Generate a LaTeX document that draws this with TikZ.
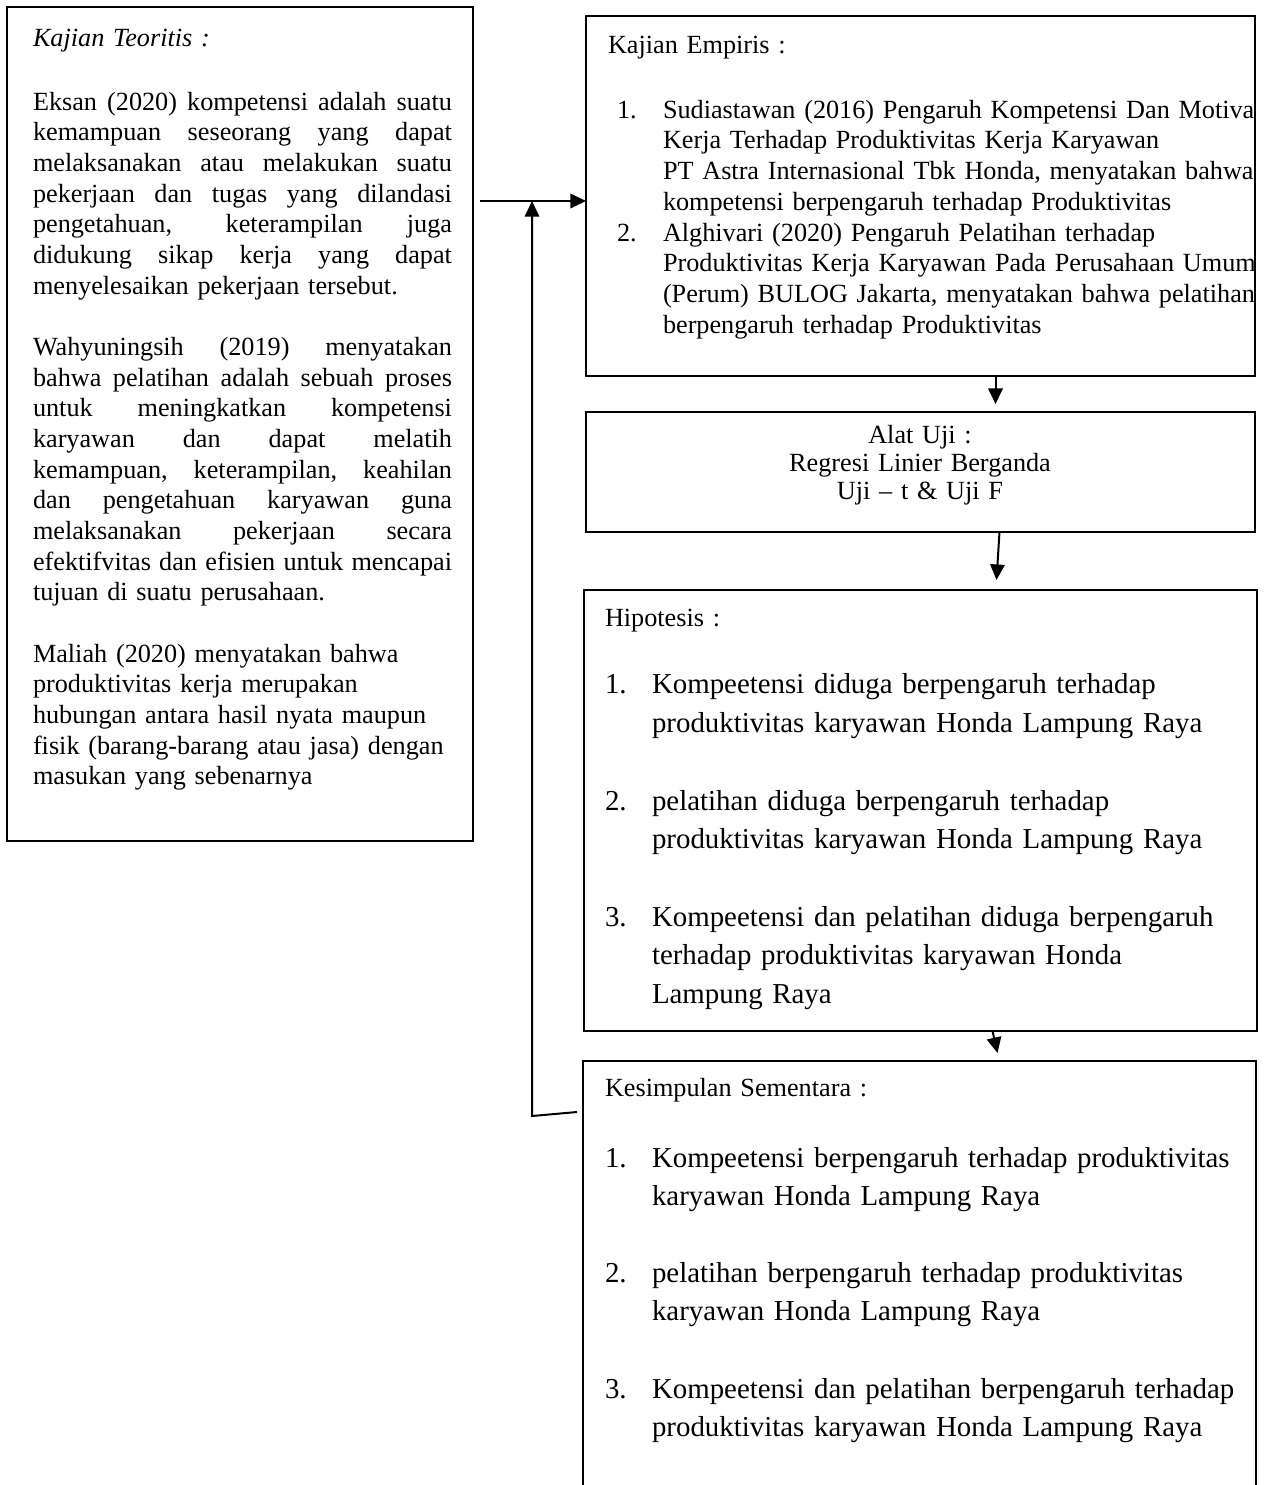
\documentclass[tikz,border=0pt]{standalone}
\usepackage{fontspec}
\setmainfont{Liberation Serif}
\usetikzlibrary{arrows.meta,calc}
\newcommand\jl[1]{\leavevmode\hbox to 188.55pt{\spaceskip=.25em plus 1fil\xspaceskip=.25em plus 1fil #1}}
\begin{document}
\begin{tikzpicture}[x=0.45pt,y=-0.45pt,
  box/.style={draw,line width=0.9pt,anchor=north west,inner sep=0pt,outer sep=0pt},
  txt/.style={anchor=base west,inner sep=0pt,outer sep=0pt,font=\fontsize{11.8}{13.8}\selectfont,align=left,text width=330pt},
  big/.style={anchor=base west,inner sep=0pt,outer sep=0pt,font=\fontsize{13}{17.4}\selectfont,align=left,text width=330pt},
  arr/.style={line width=0.9pt,-{Triangle[length=7pt,width=6.5pt]}},
  ln/.style={line width=0.9pt}]
\useasboundingbox (0,0) rectangle (1270,1485);

% boxes
\node[box,minimum width=466*0.45pt,minimum height=834*0.45pt] (teori) at (7,7) {};
\node[box,minimum width=669*0.45pt,minimum height=360*0.45pt] (empiris) at (586,16) {};
\node[box,minimum width=669*0.45pt,minimum height=120*0.45pt] (alat) at (586,412) {};
\node[box,minimum width=673*0.45pt,minimum height=441*0.45pt] (hipo) at (584,590) {};
\node[box,minimum width=673*0.45pt,minimum height=460*0.45pt] (kesim) at (583,1061) {};

% Kajian Teoritis
\node[txt] (ttitle) at (33,46) {\textit{Kajian Teoritis :}};
\node[txt,text width=190pt] (tpara) at (33,110) {%
\jl{Eksan (2020) kompetensi adalah suatu}\\
\jl{kemampuan seseorang yang dapat}\\
\jl{melaksanakan atau melakukan suatu}\\
\jl{pekerjaan dan tugas yang dilandasi}\\
\jl{pengetahuan, keterampilan juga}\\
\jl{didukung sikap kerja yang dapat}\\
menyelesaikan pekerjaan tersebut.\\
\mbox{}\\
\jl{Wahyuningsih (2019) menyatakan}\\
\jl{bahwa pelatihan adalah sebuah proses}\\
\jl{untuk meningkatkan kompetensi}\\
\jl{karyawan dan dapat melatih}\\
\jl{kemampuan, keterampilan, keahilan}\\
\jl{dan pengetahuan karyawan guna}\\
\jl{melaksanakan pekerjaan secara}\\
\jl{efektifvitas dan efisien untuk mencapai}\\
tujuan di suatu perusahaan.\\
\mbox{}\\
Maliah (2020) menyatakan bahwa\\
produktivitas kerja merupakan\\
hubungan antara hasil nyata maupun\\
fisik (barang-barang atau jasa) dengan\\
masukan yang sebenarnya};

% Kajian Empiris
\begin{scope}
\clip (586,16) rectangle (1255,376);
\node[txt] (etitle) at (608,53) {Kajian Empiris :};
\node[txt] (e1n) at (617,118) {1.};
\node[txt] (e1) at (663,118) {Sudiastawan (2016) Pengaruh Kompetensi Dan Motiva\\
Kerja Terhadap Produktivitas Kerja Karyawan\\
PT Astra Internasional Tbk Honda, menyatakan bahwa\\
kompetensi berpengaruh terhadap Produktivitas};
\node[txt] (e2n) at (617,241) {2.};
\node[txt] (e2) at (663,241) {Alghivari (2020) Pengaruh Pelatihan terhadap\\
Produktivitas Kerja Karyawan Pada Perusahaan Umum\\
(Perum) BULOG Jakarta, menyatakan bahwa pelatihan\\
berpengaruh terhadap Produktivitas};
\end{scope}

% Alat Uji
\node[anchor=base,inner sep=0pt,align=center,text width=280pt,font=\fontsize{11.8}{12.8}\selectfont] (atxt) at (920,443)
  {Alat Uji :\\Regresi Linier Berganda\\Uji – t \& Uji F};

% Hipotesis
\node[txt] (htitle) at (605,626) {Hipotesis :};
\node[big] (h1n) at (605,693.5) {1.};
\node[big] (h1) at (652,693.5) {Kompeetensi diduga berpengaruh terhadap\\produktivitas karyawan Honda Lampung Raya};
\node[big] (h2n) at (605,810) {2.};
\node[big] (h2) at (652,810) {pelatihan diduga berpengaruh terhadap\\produktivitas karyawan Honda Lampung Raya};
\node[big] (h3n) at (605,926) {3.};
\node[big] (h3) at (652,926) {Kompeetensi dan pelatihan diduga berpengaruh\\terhadap produktivitas karyawan Honda\\Lampung Raya};

% Kesimpulan Sementara
\node[txt] (ktitle) at (605,1096) {Kesimpulan Sementara :};
\node[big] (k1n) at (605,1167) {1.};
\node[big] (k1) at (652,1167) {Kompeetensi berpengaruh terhadap produktivitas\\karyawan Honda Lampung Raya};
\node[big] (k2n) at (605,1282) {2.};
\node[big] (k2) at (652,1282) {pelatihan berpengaruh terhadap produktivitas\\karyawan Honda Lampung Raya};
\node[big] (k3n) at (605,1398) {3.};
\node[big] (k3) at (652,1398) {Kompeetensi dan pelatihan berpengaruh terhadap\\produktivitas karyawan Honda Lampung Raya};

% connectors
\draw[arr] ([shift={(7,194)}]teori.north east) coordinate (ta) -- ([shift={(0,185)}]empiris.north west);
\coordinate (fbc) at (532,1116);
\draw[arr] ([shift={(-6,51)}]kesim.north west) -- (fbc) -- (fbc |- ta);
\draw[arr] ([shift={(75,0)}]empiris.south) -- ([shift={(75,-8)}]alat.north);
\draw[arr] ([shift={(79,0)}]alat.south) -- ([shift={(76,-10)}]hipo.north);
\draw[arr] ([shift={(72,0)}]hipo.south) -- ([shift={(78,-8)}]kesim.north);
\end{tikzpicture}
\end{document}
